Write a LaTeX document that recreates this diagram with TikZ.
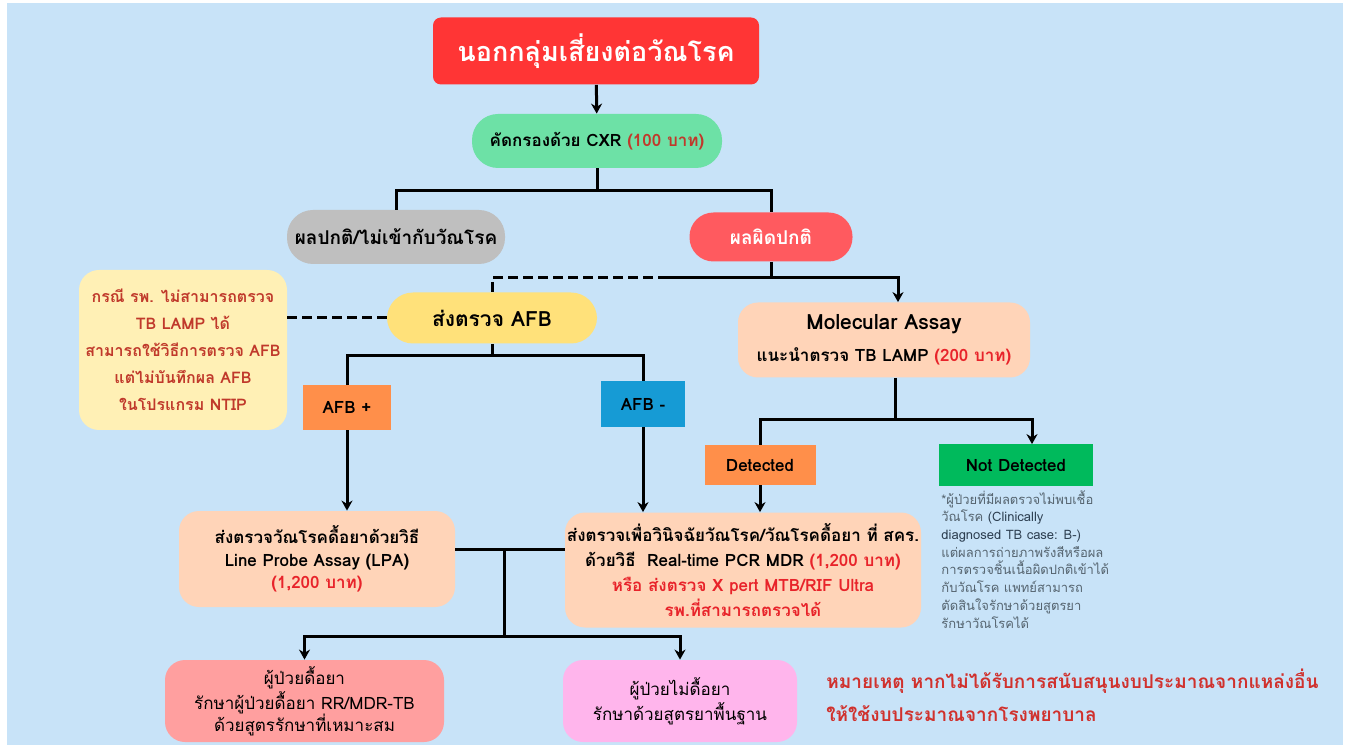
\documentclass[tikz,border=0pt]{standalone}
\usepackage{xcolor}
\usepackage{fontspec}
\setmainfont[Script=Thai]{Loma}
\usepackage{tikz}
\usetikzlibrary{arrows.meta}

\definecolor{bgblue}{HTML}{C8E3F8}
\definecolor{titlered}{HTML}{FF3535}
\definecolor{cxrgreen}{HTML}{6DE1A6}
\definecolor{normalgray}{HTML}{BFBFBF}
\definecolor{abnred}{HTML}{FF5A5F}
\definecolor{afbyellow}{HTML}{FFE17A}
\definecolor{notecream}{HTML}{FFF0B5}
\definecolor{notered}{HTML}{C0392B}
\definecolor{posorange}{HTML}{FF8F4A}
\definecolor{negblue}{HTML}{169BD5}
\definecolor{peach}{HTML}{FFD4B8}
\definecolor{detgreen}{HTML}{00BA5C}
\definecolor{resred}{HTML}{FF9F9F}
\definecolor{senspink}{HTML}{FFB5EC}
\definecolor{pricered}{HTML}{E8232A}
\definecolor{footgray}{HTML}{55646F}
\definecolor{footnavy}{HTML}{2C3E50}
\definecolor{remarkred}{HTML}{D0312D}

\tikzset{
  flow/.style={line width=1.5pt},
  arr/.style={flow,-{Stealth[length=5pt,width=5.5pt]}},
  box/.style={rounded corners=10pt,align=center,inner sep=0pt,text=black,
    font=\bfseries\fontsize{8.5}{12}\selectfont},
  pill/.style={box,rounded corners=13pt},
  tag/.style={box,rounded corners=0pt},
}

\begin{document}
\begin{tikzpicture}[x=0.5pt,y=-0.5pt]
\useasboundingbox (0,0) rectangle (1349,748);
\fill[bgblue] (7,3) rectangle (1343,745);

% boxes
\node[box,fill=titlered,text=white,rounded corners=4pt,minimum width=163pt,minimum height=33.5pt,
  font=\bfseries\fontsize{13.5}{16}\selectfont] (title) at (596,51) {นอกกลุ่มเสี่ยงต่อวัณโรค};
\node[pill,fill=cxrgreen,minimum width=125pt,minimum height=27pt] (cxr) at (597,141)
  {คัดกรองด้วย CXR \textcolor{notered}{(100 บาท)}};
\node[pill,fill=normalgray,minimum width=109pt,minimum height=27pt,
  font=\bfseries\fontsize{9.5}{12}\selectfont] (normal) at (396,237) {ผลปกติ/ไม่เข้ากับวัณโรค};
\node[pill,fill=abnred,text=white,minimum width=81.5pt,minimum height=24.5pt,rounded corners=12pt,
  font=\bfseries\fontsize{9.5}{12}\selectfont] (abnormal) at (771,237) {ผลผิดปกติ};
\node[pill,fill=afbyellow,minimum width=105pt,minimum height=25.5pt,
  font=\bfseries\fontsize{10.5}{12}\selectfont] (afb) at (492,318) {ส่งตรวจ AFB};
\node[box,fill=notecream,text=notered,minimum width=104pt,minimum height=80pt,
  font=\bfseries\fontsize{8}{13.5}\selectfont] (note) at (183,350)
  {กรณี รพ. ไม่สามารถตรวจ\\TB LAMP ได้\\สามารถใช้วิธีการตรวจ AFB\\แต่ไม่บันทึกผล AFB\\ในโปรแกรม NTIP};
\node[tag,fill=posorange,minimum width=44pt,minimum height=22.5pt] (afbpos) at (347,407.5) {AFB +};
\node[tag,fill=negblue,minimum width=42pt,minimum height=23pt] (afbneg) at (643,404) {AFB -};
\node[box,fill=peach,minimum width=146pt,minimum height=37.5pt,font=\bfseries\fontsize{8.5}{16}\selectfont]
  (molecular) at (884,340)
  {{\fontsize{10.5}{12}\selectfont Molecular Assay}\\แนะนำตรวจ TB LAMP \textcolor{pricered}{(200 บาท)}};
\node[tag,fill=posorange,minimum width=55.5pt,minimum height=20pt] (detected) at (760,465) {Detected};
\node[tag,fill=detgreen,minimum width=77pt,minimum height=20.5pt] (notdet) at (1016,465) {Not Detected};
\node[anchor=north west,align=left,inner sep=0pt,text=footgray,font=\fontsize{6.5}{8.85}\selectfont]
  (footnote) at (941,490)
  {*ผู้ป่วยที่มีผลตรวจไม่พบเชื้อ\\วัณโรค \textcolor{footnavy}{(Clinically}\\\textcolor{footnavy}{diagnosed TB case: B-)}\\แต่ผลการถ่ายภาพรังสีหรือผล\\การตรวจชิ้นเนื้อผิดปกติเข้าได้\\กับวัณโรค แพทย์สามารถ\\ตัดสินใจรักษาด้วยสูตรยา\\รักษาวัณโรคได้};
\node[box,fill=peach,minimum width=138pt,minimum height=48pt,font=\bfseries\fontsize{8.5}{11.25}\selectfont]
  (lpa) at (317,559)
  {ส่งตรวจวัณโรคดื้อยาด้วยวิธี\\Line Probe Assay (LPA)\\\textcolor{pricered}{(1,200 บาท)}};
\node[box,fill=peach,minimum width=178pt,minimum height=57.5pt,font=\bfseries\fontsize{8.5}{12.5}\selectfont]
  (pcr) at (743,570)
  {ส่งตรวจเพื่อวินิจฉัยวัณโรค/วัณโรคดื้อยา ที่ สคร.\\ด้วยวิธี\ \ Real-time PCR MDR \textcolor{pricered}{(1,200 บาท)}\\
   \textcolor{pricered}{หรือ ส่งตรวจ X pert MTB/RIF Ultra}\\\textcolor{pricered}{รพ.ที่สามารถตรวจได้}};
\node[box,fill=resred,minimum width=139.5pt,minimum height=41pt,font=\fontsize{8.5}{11}\selectfont]
  (resistant) at (304.5,701)
  {ผู้ป่วยดื้อยา\\รักษาผู้ป่วยดื้อยา RR/MDR-TB\\ด้วยสูตรรักษาที่เหมาะสม};
\node[box,fill=senspink,minimum width=117pt,minimum height=41pt,font=\fontsize{8.5}{11}\selectfont]
  (sensitive) at (680,701)
  {ผู้ป่วยไม่ดื้อยา\\รักษาด้วยสูตรยาพื้นฐาน};
\node[anchor=west,align=left,inner sep=0pt,text=remarkred,font=\bfseries\fontsize{9.5}{16.5}\selectfont]
  (remark) at (826,695)
  {หมายเหตุ หากไม่ได้รับการสนับสนุนงบประมาณจากแหล่งอื่น\\ให้ใช้งบประมาณจากโรงพยาบาล};

% split points
\coordinate (cxrsplit) at (597,191);
\coordinate (abnsplit) at (771,278);
\coordinate (dashend) at (668,278);
\coordinate (afbsplit) at (492,356);
\coordinate (molsplit) at (895,420);
\coordinate (join) at (504,549);
\coordinate (treatsplit) at (504,636);

% connectors
\draw[arr] (title) -- (cxr);
\draw[flow] (cxr.south) -- (cxrsplit);
\draw[flow] (normal.north) |- (cxrsplit) -| (abnormal.north);
\draw[flow] (abnormal.south) -- (abnsplit);
\draw[arr] (dashend) -| ([xshift=7pt]molecular.north);
\draw[flow,dashed,dash pattern=on 5pt off 2.5pt] (dashend) -| (afb.north);
\draw[flow,dashed,dash pattern=on 5pt off 2.5pt] (note.east |- afb.west) -- (afb.west);
\draw[flow] (afb.south) -- (afbsplit);
\draw[flow] (afbpos.north) |- (afbsplit) -| (afbneg.north);
\draw[arr] (afbpos.south) -- (afbpos.south |- lpa.north);
\draw[arr] (afbneg.south) -- (afbneg.south |- pcr.north);
\draw[arr] (detected.south) -- (detected.south |- pcr.north);
\draw[flow] (molsplit |- molecular.south) -- (molsplit);
\draw[arr] (detected.north) |- (molsplit) -| ([xshift=8pt]notdet.north);
\draw[flow] (lpa.east |- join) -- (pcr.west |- join);
\draw[flow] (join) -- (treatsplit);
\draw[arr] (treatsplit) -| (resistant.north);
\draw[arr] (treatsplit) -| (sensitive.north);
\end{tikzpicture}
\end{document}
